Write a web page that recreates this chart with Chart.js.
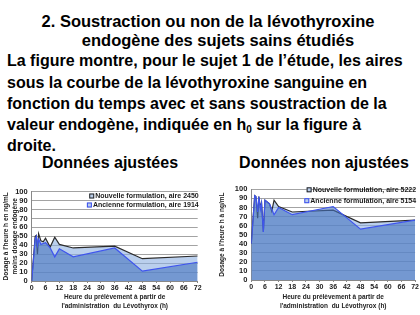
<!DOCTYPE html>
<html>
<head>
<meta charset="utf-8">
<script src="https://cdn.jsdelivr.net/npm/chart.js@4.4.0/dist/chart.umd.min.js"></script>
<style>
  body { margin: 0; width: 420px; height: 315px; background: #fff; position: relative; overflow: hidden;
         font-family: "Liberation Sans", Arial, sans-serif; font-weight: bold; color: #000; }
  .t { position: absolute; white-space: nowrap; line-height: 1; }
  .box { position: absolute; width: 210px; height: 145px; top: 170px; }
  sub { font-size: 10px; vertical-align: -3px; line-height: 0; }
</style>
</head>
<body>
<div class="t" style="left:0;width:416px;text-align:center;top:13px;font-size:16.5px">2. Soustraction ou non de la lévothyroxine</div>
<div class="t" style="left:0;width:436px;text-align:center;top:32px;font-size:16.5px">endogène des sujets sains étudiés</div>

<div class="t" style="left:7px;top:53px;font-size:16px">La figure montre, pour le sujet 1 de l’étude, les aires</div>
<div class="t" style="left:7px;top:75px;font-size:16px">sous la courbe de la lévothyroxine sanguine en</div>
<div class="t" style="left:7px;top:96px;font-size:16px">fonction du temps avec et sans soustraction de la</div>
<div class="t" style="left:7px;top:117px;font-size:16px">valeur endogène, indiquée en h<sub>0</sub> sur la figure à</div>
<div class="t" style="left:7px;top:138px;font-size:16px">droite.</div>

<div class="t" style="left:0;width:220px;text-align:center;top:155px;font-size:16px">Données ajustées</div>
<div class="t" style="left:210px;width:228px;text-align:center;top:155px;font-size:16px">Données non ajustées</div>

<div class="box" style="left:0"><canvas id="leftChart" width="210" height="145"></canvas></div>
<div class="box" style="left:210px"><canvas id="rightChart" width="210" height="145"></canvas></div>

<script>
// time in hours after the dose
const leftTimes     = [0, 1.5, 2, 2.5, 3, 4, 5, 6, 8, 10, 12, 18, 36, 48, 72];
const leftNouvelle  = [0, 50, 51, 30, 53, 45, 44, 48, 38, 49, 41, 37, 39, 25, 28];
const leftAncienne  = [0, 47, 50, 40, 47, 41, 42, 43, 37, 27, 36, 27, 37, 11, 21];

const rightTimes    = [0, 1.5, 2, 2.8, 3.3, 4, 4.5, 5.3, 6, 8, 9, 10, 12, 18, 36, 48, 72];
const rightNouvelle = [40, 93, 92, 68, 92, 80, 85, 53, 88, 84, 76, 88, 81, 75, 77, 63, 66];
const rightAncienne = [40, 93, 92, 75, 92, 78, 85, 53, 88, 84, 78, 72, 80, 72, 81, 56, 66];

const leftLabels  = ["Nouvelle formulation, aire 2450", "Ancienne formulation, aire 1914"];
const rightLabels = ["Nouvelle formulation, aire 5222", "Ancienne formulation, aire 5154"];

const xTitle = ["Heure du prélèvement à partir de", "l'administration  du Lévothyrox (h)"];
const leftYTitle  = ["Dosage à l'heure h en ng/mL", "moins dosage endogène"];
const rightYTitle = "Dosage à l'heure h à ng/mL";

function toPoints(times, values) {
  return times.map((t, i) => ({x: t, y: values[i]}));
}

// legend drawn inside the plot area, right aligned
const innerLegend = {
  id: "innerLegend",
  afterDraw(chart, args, opts) {
    const ctx = chart.ctx;
    const area = chart.chartArea;
    ctx.save();
    ctx.font = "bold 7px 'Liberation Sans', Arial, sans-serif";
    ctx.textBaseline = "middle";
    ctx.textAlign = "right";
    opts.labels.forEach((label, i) => {
      const y = area.top + opts.rows[i];
      const w = ctx.measureText(label).width;
      ctx.fillStyle = "#1a1a1a";
      ctx.fillText(label, area.right + 1, y);
      const mx = area.right + 1 - w - 6;
      ctx.fillStyle = "#b9cdea";
      ctx.fillRect(mx, y - 2.5, 5, 5);
      ctx.strokeStyle = i == 0 ? "#222" : "#3a4df0";
      ctx.lineWidth = 1;
      ctx.strokeRect(mx + 0.5, y - 2, 4, 4);
    });
    ctx.restore();
  }
};

function makeChart(id, times, nouv, anc, labels, yTitle, geo) {
  const ctx = document.getElementById(id).getContext("2d");
  return new Chart(ctx, {
    type: "line",
    data: {
      datasets: [
        {
          label: labels[1],
          data: toPoints(times, anc),
          borderColor: "#3f55ee",
          backgroundColor: "rgba(70,115,190,0.6)",
          borderWidth: 1.2,
          fill: "origin",
          order: 0
        },
        {
          label: labels[0],
          data: toPoints(times, nouv),
          borderColor: "#2b2b2b",
          backgroundColor: "rgba(140,175,225,0.6)",
          borderWidth: 1.2,
          fill: "origin",
          order: 1
        }
      ]
    },
    options: {
      responsive: false,
      animation: false,
      layout: { padding: { left: 0, right: geo.right, top: geo.top, bottom: 0 } },
      elements: { point: { radius: 0 }, line: { tension: 0 } },
      plugins: {
        legend: { display: false },
        tooltip: { enabled: false },
        innerLegend: { labels: labels, rows: geo.rows }
      },
      scales: {
        x: {
          type: "linear",
          min: 0, max: 72,
          afterFit: (s) => { s.height = geo.xHeight; },
          ticks: { stepSize: 6, autoSkip: false, maxRotation: 0, padding: 1, color: "#222",
                   font: { size: 7, weight: "bold" } },
          grid: { drawOnChartArea: false, tickLength: 2, color: "#888" },
          border: { color: "#888" },
          title: {
            display: true, text: xTitle, color: "#222",
            font: { size: 6.5, weight: "bold", lineHeight: 1.45 },
            padding: { top: 0, bottom: 3.6 }
          }
        },
        y: {
          min: 0, max: 100,
          afterFit: (s) => { s.width = geo.yWidth; },
          ticks: { stepSize: 10, autoSkip: false, padding: 4, color: "#222", font: { size: 7.5, weight: "bold" } },
          grid: { color: "#a3a3a3", tickLength: 0 },
          border: { color: "#888" },
          title: {
            display: true, text: yTitle, color: "#222",
            font: { size: 6.5, weight: "bold", lineHeight: 1.38 },
            padding: { top: geo.yTitlePad, bottom: 0 }
          }
        }
      }
    },
    plugins: [innerLegend]
  });
}

makeChart("leftChart", leftTimes, leftNouvelle, leftAncienne, leftLabels, leftYTitle,
  { right: 12.3, top: 21.7, xHeight: 34, yWidth: 31.7, yTitlePad: 1.5, rows: [4.3, 13.3] });
makeChart("rightChart", rightTimes, rightNouvelle, rightAncienne, rightLabels, rightYTitle,
  { right: 3.3, top: 19.3, xHeight: 35, yWidth: 41.3, yTitlePad: 7.5, rows: [0.5, 11.4] });
</script>
</body>
</html>
